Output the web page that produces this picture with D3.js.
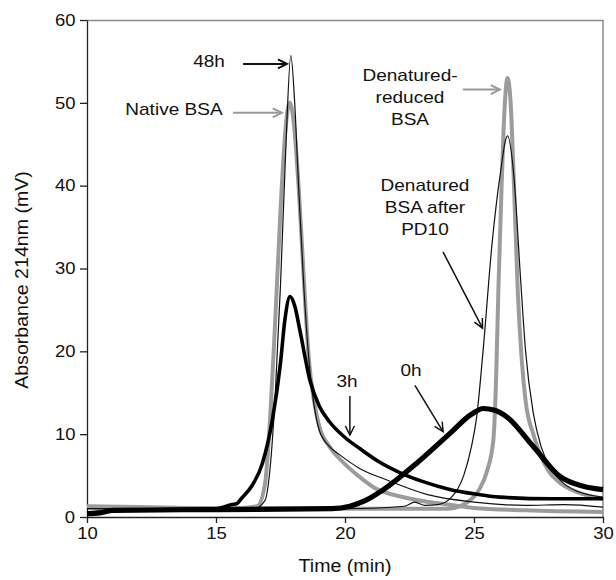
<!DOCTYPE html>
<html>
<head>
<meta charset="utf-8">
<script src="https://cdn.jsdelivr.net/npm/d3@7"></script>
<style>
  body { margin: 0; background: #fff; }
  text { font-family: 'Liberation Sans', Arial, sans-serif; fill: #111; }
  .stretch { transform-box: fill-box; transform-origin: center; transform: scaleX(1.12); }
  .axis path, .axis line { stroke: #222; stroke-width: 1.3px; }
  .axis text { font-size: 16.5px; }
</style>
</head>
<body>
<div id="chart" style="width:616px;height:580px"></div>
<script>
/* global d3 */

// chromatogram traces, [time (min), absorbance (mV)]
const nativeBSA = [[10, 1.3], [12, 1.2], [14, 1.1], [16, 1.1], [16.6, 1.3], [16.9, 4], [17.1, 12], [17.3, 24],
  [17.5, 37], [17.7, 47], [17.85, 50], [18.0, 48], [18.2, 40], [18.4, 29], [18.6, 19], [18.8, 14], [19.0, 11],
  [19.4, 8.5], [19.8, 7], [20.5, 5], [21.1, 3.6], [22.4, 2.3], [24, 1.5], [25, 1.1], [27, 0.8], [30, 0.6]]

const reducedBSA = [[10, 1.2], [14, 1.1], [20, 1.0], [24, 1.0], [24.7, 1.7], [25.2, 3.3], [25.5, 5.5],
  [25.75, 9.3], [25.85, 16], [25.95, 28], [26.05, 38], [26.15, 47], [26.3, 53], [26.42, 50], [26.55, 40],
  [26.7, 27], [26.85, 19], [27.0, 14], [27.3, 10], [27.55, 7.7], [27.9, 5.5], [28.3, 4.2], [29, 3], [30, 2.2]]

const h48 = [[10, 1.0], [14, 0.9], [16.5, 1.0], [16.9, 2], [17.1, 6], [17.3, 15], [17.5, 28], [17.7, 44],
  [17.9, 55.7], [18.05, 50], [18.2, 40], [18.4, 28], [18.6, 19], [18.8, 13.5], [19.0, 10.5], [19.4, 8.5],
  [19.8, 7.5], [20.6, 5.8], [21.6, 4.5], [23.2, 2.7], [25, 1.8], [27, 1.4], [28.5, 1.5], [30, 1.2]]

const pd10 = [[10, 1.0], [15, 0.9], [20, 1.0], [22.3, 1.3], [22.7, 1.8], [23.1, 1.4], [23.6, 1.5], [24.1, 2.3],
  [24.6, 5], [24.9, 8.5], [25.1, 12], [25.35, 20], [25.7, 33], [26.0, 41], [26.3, 46], [26.55, 41],
  [26.8, 29], [27.0, 20], [27.3, 12.5], [27.6, 8.5], [28, 5.8], [28.5, 4], [29, 3.1], [30, 2.4]]

const h3 = [[10, 0.5], [10.5, 0.6], [11, 0.8], [13, 0.9], [15, 1.0], [15.4, 1.3], [15.6, 1.5], [15.8, 1.6],
  [16.0, 2.3], [16.4, 3.8], [16.8, 6.5], [17.2, 12], [17.5, 18.6], [17.67, 23.8], [17.87, 26.6], [18.05, 25.5],
  [18.26, 22.4], [18.64, 16.5], [19.0, 13.4], [19.4, 11.5], [20.0, 9.6], [20.6, 8.2], [21.3, 6.7], [22.1, 5.4],
  [23, 4.3], [24.1, 3.3], [25, 2.8], [26, 2.4], [28, 2.2], [30, 2.2]]

const h0 = [[10, 0.4], [10.5, 0.5], [11, 0.8], [15, 0.9], [19.5, 1.0], [20.19, 1.3], [20.8, 2.0], [21.49, 3.3],
  [22.78, 6.5], [24.07, 10.1], [24.9, 12.4], [25.36, 13.1], [25.8, 12.9], [26.27, 12.1], [27.3, 8.5],
  [28.33, 4.9], [29.24, 3.7], [30, 3.3]]

const xTicks = [10, 15, 20, 25, 30]
const yTicks = [0, 10, 20, 30, 40, 50, 60]

// annotation text lines and their arrows, in data units
const labels = [
  { lines: ['48h'], t: 14.73, v: 55.1, color: '#111' },
  { lines: ['Native BSA'], t: 13.37, v: 49.2, color: '#111' },
  { lines: ['Denatured-', 'reduced', 'BSA'], t: 22.52, v: 53.4, color: '#111' },
  { lines: ['Denatured', 'BSA after', 'PD10'], t: 23.1, v: 40.1, color: '#111' },
  { lines: ['3h'], t: 20.08, v: 16.4, color: '#111' },
  { lines: ['0h'], t: 22.56, v: 17.75, color: '#111' }
]
const arrows = [
  { from: [16.05, 54.7], to: [17.75, 54.7], color: '#111', w: 2 },
  { from: [15.66, 48.8], to: [17.55, 48.8], color: '#999', w: 2 },
  { from: [24.57, 51.6], to: [26.0, 51.6], color: '#999', w: 2 },
  { from: [23.8, 32.0], to: [25.33, 22.8], color: '#111', w: 1.5 },
  { from: [20.19, 14.6], to: [20.19, 9.9], color: '#111', w: 1.5 },
  { from: [22.71, 15.9], to: [23.8, 10.3], color: '#111', w: 1.5 }
]

let DrawChrom = function (id) {
  this.svgWidth = 616
  this.svgHeight = 580
  this.margin = { top: 20, right: 13, bottom: 63, left: 87 }
  this.width = this.svgWidth - this.margin.left - this.margin.right
  this.height = this.svgHeight - this.margin.top - this.margin.bottom

  this.svg = d3.select(id).append('svg')
    .attr('width', this.svgWidth)
    .attr('height', this.svgHeight)

  this.g = this.svg.append('g')
    .attr('transform', 'translate(' + this.margin.left + ',' + this.margin.top + ')')

  this.x = d3.scaleLinear().domain([10, 30]).range([0, this.width])
  this.y = d3.scaleLinear().domain([0, 60]).range([this.height, 0])
}

DrawChrom.prototype.axes = function () {
  // grey frame top / right
  this.g.append('path')
    .attr('d', 'M0,0.5H' + this.width + 'V' + this.height)
    .attr('fill', 'none')
    .attr('stroke', '#8a8a8a')
    .attr('stroke-width', 1.5)

  let xAxis = d3.axisBottom(this.x).tickValues(xTicks).tickSize(6).tickPadding(4).tickSizeOuter(0)
  let yAxis = d3.axisLeft(this.y).tickValues(yTicks).tickSize(7).tickPadding(3).tickSizeOuter(0)

  this.g.append('g')
    .attr('class', 'x axis')
    .attr('transform', 'translate(0,' + this.height + ')')
    .call(xAxis)
    .selectAll('text').attr('class', 'stretch')

  this.g.append('g')
    .attr('class', 'y axis')
    .call(yAxis)
    .selectAll('text').attr('class', 'stretch').attr('dx', '-0.15em')

  this.svg.append('text')
    .attr('class', 'stretch')
    .attr('x', this.margin.left + this.width / 2)
    .attr('y', 572)
    .attr('text-anchor', 'middle')
    .style('font-size', '17.5px')
    .text('Time (min)')

  this.svg.append('g')
    .attr('transform', 'translate(28,280) rotate(-90)')
    .append('text')
    .attr('text-anchor', 'middle')
    .style('font-size', '17.5px')
    .attr('class', 'stretch')
    .text('Absorbance 214nm (mV)')
}

DrawChrom.prototype.traces = function () {
  let x = this.x
  let y = this.y
  let line = d3.line()
    .x(function (d) { return x(d[0]) })
    .y(function (d) { return y(d[1]) })
    .curve(d3.curveMonotoneX)

  let series = [
    { data: nativeBSA, color: '#9c9c9c', w: 4 },
    { data: reducedBSA, color: '#9c9c9c', w: 4 },
    { data: h48, color: '#111', w: 1.2 },
    { data: pd10, color: '#111', w: 1.2 },
    { data: h3, color: '#000', w: 3.6 },
    { data: h0, color: '#000', w: 5.2 }
  ]

  this.g.selectAll('path.trace')
    .data(series)
    .enter().append('path')
    .attr('class', 'trace')
    .attr('d', function (d) { return line(d.data) })
    .attr('fill', 'none')
    .attr('stroke', function (d) { return d.color })
    .attr('stroke-width', function (d) { return d.w })
    .attr('stroke-linejoin', 'round')
}

DrawChrom.prototype.notes = function () {
  let x = this.x
  let y = this.y
  let defs = this.svg.append('defs')
  let self = this

  arrows.forEach(function (a, i) {
    defs.append('marker')
      .attr('id', 'head' + i)
      .attr('markerUnits', 'userSpaceOnUse')
      .attr('viewBox', '0 0 12 12')
      .attr('refX', 10).attr('refY', 6)
      .attr('markerWidth', 12).attr('markerHeight', 12)
      .attr('orient', 'auto')
      .append('path')
      .attr('d', 'M1,1.5L10,6L1,10.5')
      .attr('fill', 'none')
      .attr('stroke', a.color)
      .attr('stroke-width', a.w)

    self.g.append('line')
      .attr('x1', x(a.from[0])).attr('y1', y(a.from[1]))
      .attr('x2', x(a.to[0])).attr('y2', y(a.to[1]))
      .attr('stroke', a.color)
      .attr('stroke-width', a.w)
      .attr('marker-end', 'url(#head' + i + ')')
  })

  labels.forEach(function (l) {
    let t = self.g.append('text')
      .attr('class', 'stretch')
      .attr('text-anchor', 'middle')
      .style('font-size', '17px')
      .style('fill', l.color)
    l.lines.forEach(function (s, k) {
      t.append('tspan')
        .attr('x', x(l.t))
        .attr('y', y(l.v) + 6 + k * 22)
        .text(s)
    })
  })
}

let chart = new DrawChrom('#chart')
chart.axes()
chart.traces()
chart.notes()
</script>
</body>
</html>
